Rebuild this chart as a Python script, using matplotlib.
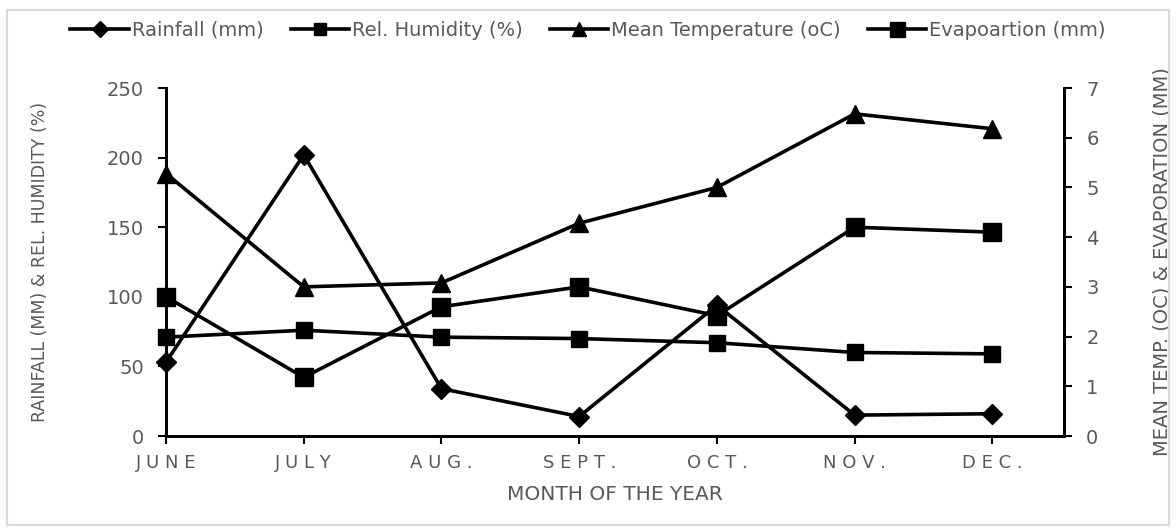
import matplotlib.pyplot as plt
from matplotlib.patches import Rectangle

months = ["JUNE", "JULY", "AUG.", "SEPT.", "OCT.", "NOV.", "DEC."]
rainfall = [53, 202, 34, 14, 94, 15, 16]
humidity = [71, 76, 71, 70, 67, 60, 59]
temperature = [5.28, 3.0, 3.08, 4.28, 5.0, 6.48, 6.18]
evaporation = [2.8, 1.18, 2.6, 3.0, 2.42, 4.2, 4.1]

grey = "#595959"
plt.rcParams["font.family"] = ["DejaVu Sans"]

fig = plt.figure(figsize=(11.76, 5.30), dpi=100)
ax = fig.add_axes([166 / 1176, 1 - 436 / 530, (1064 - 166) / 1176, (436 - 88) / 530])
ax2 = ax.twinx()

x = range(len(months))
style = dict(color="black", lw=2.6, clip_on=False, zorder=3)
l1, = ax.plot(x, rainfall, marker="D", ms=10, label="Rainfall (mm)", **style)
l2, = ax.plot(x, humidity, marker="s", ms=11, label="Rel. Humidity (%)", **style)
l3, = ax2.plot(x, temperature, marker="^", ms=13, label="Mean Temperature (oC)", **style)
l4, = ax2.plot(x, evaporation, marker="s", ms=13.5, label="Evapoartion (mm)", **style)

ax.set_xlim(0, 6.52)
ax.set_ylim(0, 250)
ax2.set_ylim(0, 7)
ax.set_yticks(range(0, 251, 50))
ax2.set_yticks(range(0, 8))
ax.set_xticks(list(x))
ax.set_xticklabels([" ".join(m) for m in months])

for a in (ax, ax2):
    a.spines["top"].set_visible(False)
    for s in ("left", "right", "bottom"):
        a.spines[s].set_linewidth(2)
    a.tick_params(colors=grey, labelsize=14, width=1.5, length=6, pad=10)
    a.tick_params(axis="both", color="black")
ax.tick_params(axis="x", labelsize=13, pad=7)

ax.set_xlabel("MONTH OF THE YEAR", color=grey, fontsize=14.5, labelpad=9)
ax.set_ylabel("RAINFALL (MM) & REL. HUMIDITY (%)", color=grey, fontsize=12.5)
ax2.set_ylabel("MEAN TEMP. (OC) & EVAPORATION (MM)", color=grey, fontsize=14)
ax.yaxis.set_label_coords(-0.13, 0.5)
ax2.yaxis.set_label_coords(1.098, 0.5)

leg = fig.legend(handles=[l1, l2, l3, l4], loc="center", bbox_to_anchor=(0.5, 1 - 30 / 530),
                 ncol=4, frameon=False, fontsize=14, handlelength=3, columnspacing=1.4,
                 handletextpad=0.15, markerscale=0.8)
for t in leg.get_texts():
    t.set_color(grey)

fig.patches.append(Rectangle((7 / 1176, 5 / 530), 1162 / 1176, 515 / 530, transform=fig.transFigure,
                             fill=False, edgecolor="#d9d9d9", lw=1.5))

fig.savefig("out.png", dpi=100)
